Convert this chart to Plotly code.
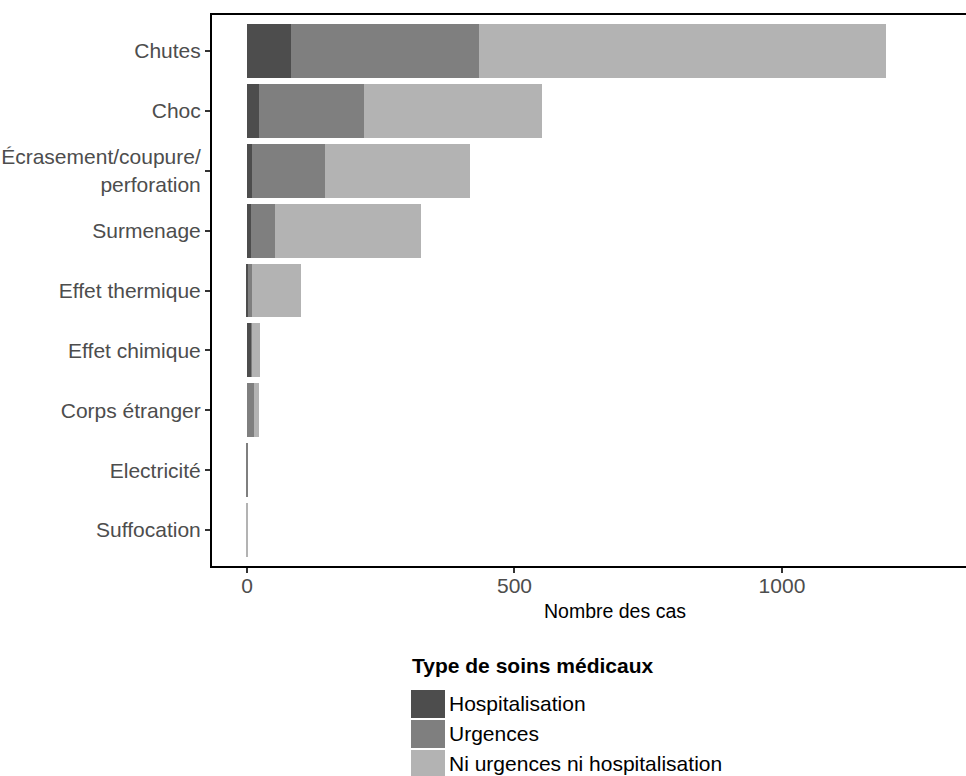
import plotly.graph_objects as go

categories = ["Chutes", "Choc", "Écrasement/coupure/<br>perforation", "Surmenage",
              "Effet thermique", "Effet chimique", "Corps étranger", "Electricité", "Suffocation"]
hospitalisation = [82, 23, 10, 7, 2, 8, 0, 0, 0]
urgences = [352, 195, 136, 46, 8, 2, 14, 2, 0]
ni_urg_ni_hosp = [761, 334, 270, 273, 91, 15, 9, 0, 1]
series_names = ["Hospitalisation", "Urgences", "Ni urgences ni hospitalisation"]
series_colors = ["#4d4d4d", "#7f7f7f", "#b3b3b3"]
x_ticks = [0, 500, 1000]

W, H = 966, 776
L, R, T, B = 212, 966, 15, 566

def px2x(px):
    return (px - L) / (R - L)

def py2y(py):
    return (B - py) / (B - T)

fig = go.Figure()
for name, vals, col in zip(series_names, [hospitalisation, urgences, ni_urg_ni_hosp], series_colors):
    fig.add_trace(go.Bar(
        y=categories, x=vals, name=name, orientation="h",
        marker=dict(color=col, line=dict(width=0)), width=0.9, showlegend=False))

font_family = "Liberation Sans, Arial, sans-serif"
fig.update_layout(
    width=W, height=H, barmode="stack",
    margin=dict(l=L, r=W - R, t=T, b=H - B, autoexpand=False),
    plot_bgcolor="white", paper_bgcolor="white",
    font=dict(family=font_family, size=21, color="#000000"),
    xaxis=dict(range=[-65.4, 1344], tickvals=x_ticks, ticktext=[str(v) for v in x_ticks],
               showgrid=False, zeroline=False, showline=True, linecolor="black", linewidth=2,
               mirror=True, ticks="outside", ticklen=5, tickwidth=1.6, tickcolor="#333333",
               ticklabelstandoff=-5,
               tickfont=dict(size=21, color="#4d4d4d")),
    yaxis=dict(type="category", categoryorder="array", categoryarray=categories,
               range=[8.6, -0.6], showgrid=False, zeroline=False, showline=True,
               linecolor="black", linewidth=2, ticks="outside", ticklen=5, tickwidth=1.6,
               tickcolor="#333333", tickfont=dict(size=21, color="#4d4d4d")),
)

# x-axis title
fig.add_annotation(text="Nombre des cas", xref="paper", yref="paper",
                   x=px2x(615), y=py2y(611), showarrow=False, xanchor="center", yanchor="middle",
                   font=dict(size=19.5, color="black"))

# manual legend
fig.add_annotation(text="<b>Type de soins médicaux</b>", xref="paper", yref="paper",
                   x=px2x(410), y=py2y(665), showarrow=False, xanchor="left", yanchor="middle",
                   font=dict(size=21, color="black"))
key_tops = [690, 720, 750]
for name, col, top in zip(series_names, series_colors, key_tops):
    fig.add_shape(type="rect", xref="paper", yref="paper",
                  x0=px2x(411), x1=px2x(445), y0=py2y(top), y1=py2y(top + 28),
                  fillcolor=col, line=dict(width=0))
    fig.add_annotation(text=name, xref="paper", yref="paper",
                       x=px2x(447), y=py2y(top + 13), showarrow=False, xanchor="left",
                       yanchor="middle", font=dict(size=21, color="black"))

fig.write_html("out.html", config={"displayModeBar": False},
               post_script="document.body.style.margin='0';document.body.style.overflow='hidden';")
